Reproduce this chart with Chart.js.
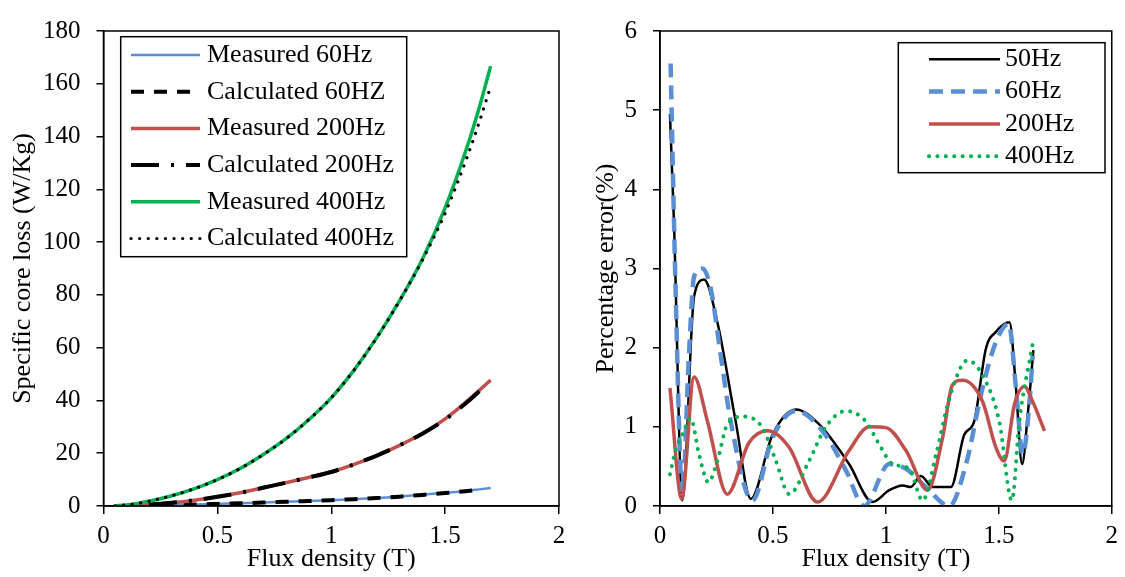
<!DOCTYPE html>
<html>
<head>
<meta charset="utf-8">
<script src="https://cdn.jsdelivr.net/npm/chart.js@4/dist/chart.umd.min.js"></script>
<style>
    html, body { margin: 0; padding: 0; background: #fff; }
    #wrap { position: relative; width: 1125px; height: 577px; }
    #lossChart { position: absolute; left: 0; top: 0; }
    #errorChart { position: absolute; left: 575px; top: 0; }
</style>
</head>
<body>
<div id="wrap">
    <canvas id="lossChart" width="575" height="577"></canvas>
    <canvas id="errorChart" width="550" height="577"></canvas>
</div>
<script>
// 左图: 比损耗 (W/Kg) 随磁通密度变化
const lossFlux = [0.05, 0.1, 0.15, 0.2, 0.3, 0.4, 0.5, 0.6, 0.7, 0.8, 0.9, 1.0, 1.1, 1.2, 1.3, 1.4, 1.5, 1.6, 1.65, 1.7];
const measured60 = [null, null, 0.0, 0.1, 0.3, 0.55, 0.8, 1.05, 1.3, 1.6, 1.9, 2.2, 2.6, 3.0, 3.6, 4.3, 5.0, 5.8, 6.3, 6.8];
const calculated60 = [null, null, 0.0, 0.1, 0.3, 0.55, 0.8, 1.05, 1.3, 1.6, 1.9, 2.2, 2.6, 3.0, 3.55, 4.2, 4.9, 5.7, 6.2, null];
const measured200 = [null, null, 0.1, 0.5, 1.2, 2.2, 3.5, 5.0, 6.9, 8.8, 10.8, 12.9, 15.8, 19.1, 23.0, 27.5, 33.0, 40.0, 43.8, 47.7];
const calculated200 = [null, null, null, 0.5, 1.2, 2.2, 3.5, 5.0, 6.9, 8.8, 10.8, 12.9, 15.8, 19.1, 23.0, 27.4, 32.8, 39.6, 43.5, null];
const measured400 = [0.1, 0.4, 1.0, 1.8, 3.9, 6.6, 10.0, 14.2, 19.4, 25.4, 32.6, 41.0, 51.5, 63.8, 77.8, 93.5, 113, 137, 151, 166.7];
const calculated400 = [0.1, 0.4, 1.0, 1.8, 3.9, 6.6, 10.0, 14.2, 19.4, 25.4, 32.6, 41.0, 51.5, 63.8, 77.8, 93.2, 111, 133, 145.5, 159];

// 右图: 百分比误差
const err50Flux = [0.044, 0.062, 0.099, 0.151, 0.195, 0.254, 0.335, 0.402, 0.498, 0.601, 0.705, 0.837, 0.941, 1.015, 1.074, 1.11, 1.155, 1.207, 1.288, 1.347, 1.391, 1.443, 1.487, 1.547, 1.576, 1.603, 1.628, 1.653];
const err50 = [4.95, 3.57, 0.07, 2.65, 2.86, 2.32, 1.07, 0.09, 0.9, 1.22, 1.03, 0.53, 0.05, 0.2, 0.26, 0.24, 0.38, 0.24, 0.24, 0.9, 1.07, 1.99, 2.2, 2.32, 1.49, 0.53, 1.15, 1.97];
const err60Flux = [0.047, 0.069, 0.099, 0.128, 0.151, 0.188, 0.225, 0.269, 0.313, 0.409, 0.498, 0.601, 0.719, 0.823, 0.904, 1.015, 1.089, 1.177, 1.281, 1.355, 1.428, 1.487, 1.544, 1.576, 1.606, 1.635, 1.65];
const err60 = [5.59, 2.74, 0.15, 1.9, 2.9, 3.0, 2.74, 1.9, 1.07, 0.07, 0.86, 1.2, 0.95, 0.45, 0.0, 0.53, 0.47, 0.24, 0.0, 0.53, 1.49, 2.07, 2.3, 1.49, 0.65, 1.28, 1.9];
const err200Flux = [0.044, 0.096, 0.151, 0.21, 0.298, 0.394, 0.476, 0.572, 0.697, 0.837, 0.926, 1.0, 1.089, 1.185, 1.251, 1.295, 1.34, 1.428, 1.487, 1.524, 1.569, 1.613, 1.65, 1.702];
const err200 = [1.49, 0.09, 1.63, 1.07, 0.15, 0.8, 0.95, 0.74, 0.05, 0.7, 1.0, 0.99, 0.7, 0.2, 0.86, 1.53, 1.59, 1.32, 0.74, 0.57, 1.28, 1.51, 1.32, 0.95];
const err400Flux = [0.044, 0.069, 0.099, 0.136, 0.173, 0.214, 0.254, 0.298, 0.372, 0.453, 0.513, 0.572, 0.66, 0.734, 0.823, 0.911, 0.97, 1.03, 1.103, 1.163, 1.222, 1.281, 1.362, 1.428, 1.502, 1.558, 1.591, 1.65];
const err400 = [0.4, 0.7, 0.9, 1.11, 0.65, 0.3, 0.57, 1.03, 1.13, 0.99, 0.57, 0.15, 0.57, 1.0, 1.2, 1.07, 0.78, 0.53, 0.47, 0.07, 0.65, 1.36, 1.84, 1.65, 1.07, 0.07, 1.07, 2.05];

const lossTicks = { min: 0, max: 180, step: 20 };
const errorTicks = { min: 0, max: 6, step: 1 };
const fluxTicks = { min: 0, max: 2, step: 0.5 };

const FONT = 'Liberation Serif, Times New Roman, serif';

// 组合 {x, y} 数据点
function toPoints(xs, ys) {
    return xs.map((x, i) => ({ x: x, y: ys[i] })).filter(p => p.y !== null);
}

// 图框 (上、右边线)
const framePlugin = {
    id: 'frame',
    afterDatasetsDraw(chart) {
        const { ctx, chartArea: a } = chart;
        ctx.save();
        ctx.strokeStyle = '#000';
        ctx.lineWidth = 1.5;
        ctx.strokeRect(a.left, a.top, a.right - a.left, a.bottom - a.top);
        ctx.restore();
    }
};

// 自绘图例, 保留虚线样式
const boxLegendPlugin = {
    id: 'boxLegend',
    afterDraw(chart, args, opts) {
        const ctx = chart.ctx;
        ctx.save();
        ctx.fillStyle = '#fff';
        ctx.fillRect(opts.x, opts.y, opts.w, opts.h);
        ctx.strokeStyle = '#000';
        ctx.lineWidth = 1.5;
        ctx.strokeRect(opts.x, opts.y, opts.w, opts.h);
        chart.data.datasets.forEach((ds, i) => {
            const y = opts.rowY + i * opts.rowStep;
            ctx.beginPath();
            ctx.strokeStyle = ds.borderColor;
            ctx.lineWidth = ds.borderWidth;
            ctx.lineCap = ds.borderCapStyle || 'butt';
            ctx.setLineDash(ds.borderDash || []);
            ctx.moveTo(opts.sampleX0, y);
            ctx.lineTo(opts.sampleX1, y);
            ctx.stroke();
            ctx.setLineDash([]);
            ctx.fillStyle = '#000';
            ctx.font = '26px ' + FONT;
            ctx.textAlign = 'left';
            ctx.textBaseline = 'middle';
            ctx.fillText(ds.label, opts.textX, y);
        });
        ctx.restore();
    }
};

function axisX(titlePadBottom) {
    return {
        type: 'linear',
        min: fluxTicks.min,
        max: fluxTicks.max,
        ticks: {
            stepSize: fluxTicks.step, color: '#000', padding: 7, font: { family: FONT, size: 25 },
            callback: value => String(value)
        },
        grid: { drawOnChartArea: false, drawTicks: true, tickLength: 8, color: '#000', lineWidth: 1.5 },
        border: { color: '#000', width: 1.5 },
        title: { display: true, text: 'Flux density (T)', color: '#000', font: { family: FONT, size: 26 }, padding: { top: 0, bottom: titlePadBottom } },
        afterFit(scale) { scale.height = 71; }
    };
}

function axisY(range, title, width, titlePadTop) {
    return {
        type: 'linear',
        min: range.min,
        max: range.max,
        ticks: { stepSize: range.step, color: '#000', padding: 16, font: { family: FONT, size: 25 } },
        grid: { drawOnChartArea: false, drawTicks: true, tickLength: 7, color: '#000', lineWidth: 1.5 },
        border: { color: '#000', width: 1.5 },
        title: { display: true, text: title, color: '#000', font: { family: FONT, size: 26 }, padding: { top: titlePadTop, bottom: 0 } },
        afterFit(scale) { scale.width = width; }
    };
}

// 后面的系列画在上层 (与原图一致)
function line(label, xs, ys, color, width, dash, order, extra) {
    return Object.assign({
        label: label,
        data: toPoints(xs, ys),
        borderColor: color,
        borderWidth: width,
        borderDash: dash,
        order: order,
        pointRadius: 0,
        fill: false,
        spanGaps: true,
        cubicInterpolationMode: 'monotone'
    }, extra || {});
}

// 左图
new Chart(document.getElementById('lossChart'), {
    type: 'line',
    data: {
        datasets: [
            line('Measured 60Hz', lossFlux, measured60, '#5B8FD3', 2.5, [], 5),
            line('Calculated 60HZ', lossFlux, calculated60, '#000', 4, [13, 10], 4),
            line('Measured 200Hz', lossFlux, measured200, '#C0504D', 3.5, [], 3),
            line('Calculated 200Hz', lossFlux, calculated200, '#000', 4, [28, 12, 3, 12], 2),
            line('Measured 400Hz', lossFlux, measured400, '#00B050', 3.5, [], 1),
            line('Calculated 400Hz', lossFlux, calculated400, '#000', 3.2, [0.1, 8.5], 0, { borderCapStyle: 'round' })
        ]
    },
    options: {
        responsive: false,
        animation: false,
        devicePixelRatio: 1,
        layout: { padding: { left: 0, right: 16, top: 20, bottom: 0 } },
        scales: {
            x: axisX(2.4),
            y: axisY(lossTicks, 'Specific core loss (W/Kg)', 103.5, 8)
        },
        plugins: {
            legend: { display: false },
            tooltip: { enabled: false },
            boxLegend: { x: 120.7, y: 36.7, w: 286, h: 220, rowY: 55, rowStep: 36.7, sampleX0: 131, sampleX1: 200, textX: 207 }
        }
    },
    plugins: [framePlugin, boxLegendPlugin]
});

// 右图
new Chart(document.getElementById('errorChart'), {
    type: 'line',
    data: {
        datasets: [
            line('50Hz', err50Flux, err50, '#000', 2.5, [], 3),
            line('60Hz', err60Flux, err60, '#5B8FD3', 4.5, [14, 8], 2),
            line('200Hz', err200Flux, err200, '#C0504D', 3.5, [], 1),
            line('400Hz', err400Flux, err400, '#00B050', 4, [0.1, 8.3], 0, { borderCapStyle: 'round' })
        ]
    },
    options: {
        responsive: false,
        animation: false,
        devicePixelRatio: 1,
        layout: { padding: { left: 0, right: 12.5, top: 23, bottom: 0 } },
        scales: {
            x: axisX(2.4),
            y: axisY(errorTicks, 'Percentage error(%)', 85, 15.4)
        },
        plugins: {
            legend: { display: false },
            tooltip: { enabled: false },
            boxLegend: { x: 323.3, y: 42.7, w: 206.7, h: 130, rowY: 59.3, rowStep: 32.3, sampleX0: 354, sampleX1: 425, textX: 430 }
        }
    },
    plugins: [framePlugin, boxLegendPlugin]
});
</script>
</body>
</html>
